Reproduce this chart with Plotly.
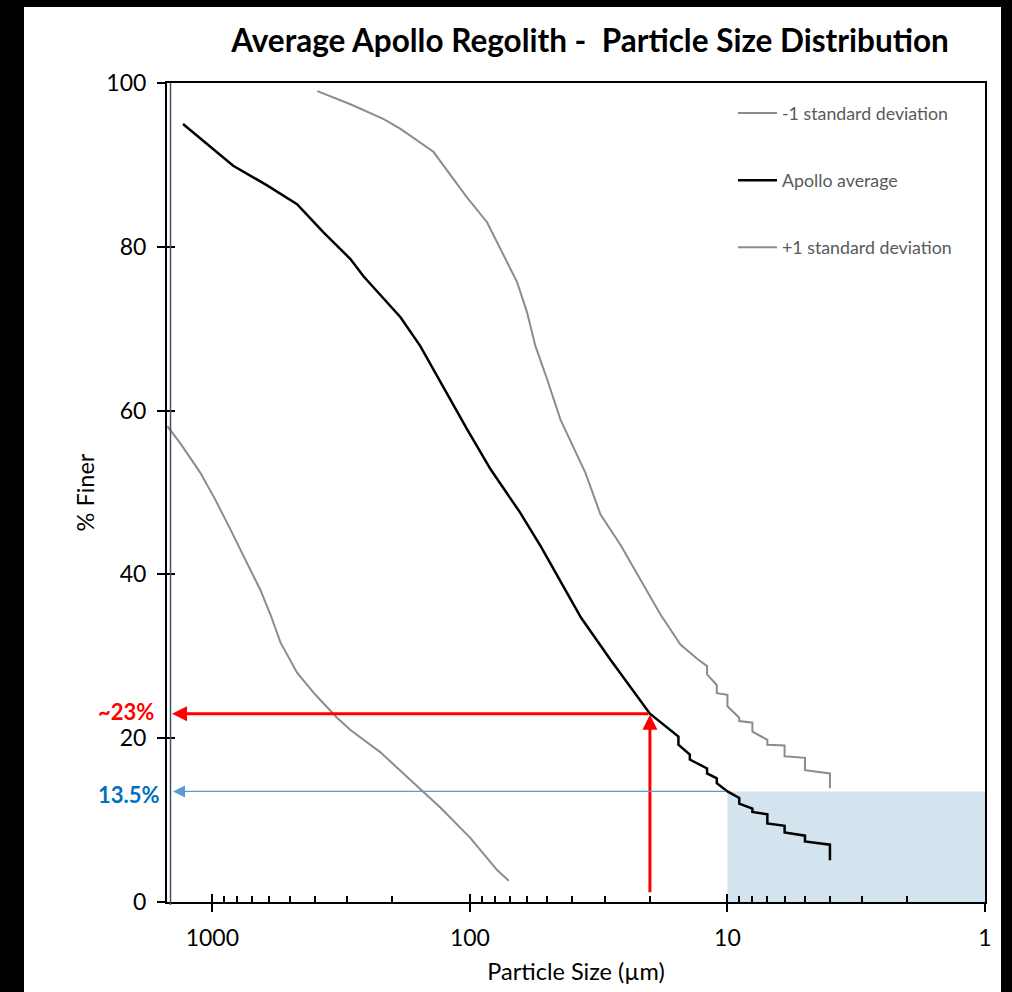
import numpy as np
import plotly.graph_objects as go

# Cumulative particle size distribution: particle size (µm) vs % finer
avg_size = [1300, 830, 613, 530, 469, 371, 291, 259, 186, 156, 130, 102.5, 83, 64, 53,
            45, 37, 28.5, 23.8, 20, 15.5, 15.5, 14, 14, 12, 12, 11, 11, 10, 9, 9, 8, 8,
            7, 7, 6, 6, 5, 5, 4, 4]
avg_pct = [95.0, 89.9, 87.5, 86.2, 85.2, 81.8, 78.5, 76.4, 71.4, 67.9, 63.4, 57.7, 52.8,
           47.6, 43.4, 39.4, 34.7, 29.6, 26.2, 23.0, 20.2, 19.2, 18.0, 17.4, 16.3, 15.7,
           15.1, 14.5, 13.5, 12.7, 12.0, 11.4, 11.0, 10.7, 9.6, 9.3, 8.5, 8.1, 7.4, 7.0, 5.1]

minus_size = [1496, 1331, 1113, 973, 851, 744, 651, 595, 544, 469, 398, 328, 291, 223,
              170, 130, 99.5, 78.4, 70.7]
minus_pct = [58.1, 56.0, 52.4, 49.1, 45.5, 41.8, 38.1, 35.1, 31.7, 28.0, 25.3, 22.5, 21.0,
             18.3, 14.9, 11.5, 7.8, 3.9, 2.6]

plus_size = [391, 291, 216, 186, 138.6, 102.5, 85.8, 76.1, 65.6, 60.0, 55.7, 50.1, 44.5,
             35.6, 31.1, 26.0, 21.8, 18.2, 15.2, 13.0, 12, 12, 11, 11, 10, 10, 9, 9, 8, 8,
             7, 7, 6, 6, 5, 5, 4, 4]
plus_pct = [99.0, 97.4, 95.6, 94.4, 91.6, 86.0, 83.0, 79.7, 75.7, 72.0, 67.9, 63.8, 58.9,
            52.4, 47.3, 43.6, 39.4, 35.1, 31.4, 29.6, 28.8, 27.8, 26.5, 25.5, 25.3, 23.9,
            22.5, 22.1, 21.9, 20.8, 19.8, 19.2, 19.1, 17.8, 17.6, 16.1, 15.7, 13.9]

# Highlighted readings
marker_size = 20        # µm
marker_pct = 23         # % finer at 20 µm
fine_size = 10          # µm
fine_pct = 13.5         # % finer at 10 µm

# Axis extents
size_max = 1500
size_min = 1
pct_ticks = [0, 20, 40, 60, 80, 100]

W, H = 1012, 992
ML, MR, MT, MB = 167, 27, 83, 90
PW, PH = W - ML - MR, H - MT - MB
FONT = "Lato"


def px_to_paper_x(px):
    return (px - ML) / PW


def px_to_paper_y(py):
    return (H - MB - py) / PH


x_range = [np.log10(size_max), np.log10(size_min)]
minor_vals = [m * 10 ** e for e in range(0, 4) for m in range(2, 10) if m * 10 ** e < size_max]

fig = go.Figure()
fig.add_trace(go.Scatter(x=minus_size, y=minus_pct, mode="lines", name="-1 standard deviation",
                         line=dict(color="#8C8C8C", width=2), legendgroup="m"))
fig.add_trace(go.Scatter(x=avg_size, y=avg_pct, mode="lines", name="Apollo average",
                         line=dict(color="black", width=2.5), legendgroup="a"))
fig.add_trace(go.Scatter(x=plus_size, y=plus_pct, mode="lines", name="+1 standard deviation",
                         line=dict(color="#8C8C8C", width=2), legendgroup="p"))
# companion axes that carry the inner half of the crossing major ticks
fig.add_trace(go.Scatter(x=[], y=[], xaxis="x2", yaxis="y2", showlegend=False, hoverinfo="skip"))

shapes = [
    # fine fraction band
    dict(type="rect", xref="x", yref="y", x0=fine_size, x1=size_min, y0=0, y1=fine_pct,
         fillcolor="#D3E4EE", line=dict(width=0), layer="below"),
    # thin slate rule alongside the vertical axis
    dict(type="line", xref="paper", yref="paper", x0=px_to_paper_x(170.5), x1=px_to_paper_x(170.5),
         y0=px_to_paper_y(905), y1=1, line=dict(color="#44546A", width=1.5), layer="above"),
    # dark frame around the page
    dict(type="rect", xref="paper", yref="paper", x0=px_to_paper_x(0), x1=px_to_paper_x(24),
         y0=px_to_paper_y(H), y1=px_to_paper_y(0), fillcolor="black", line=dict(width=0)),
    dict(type="rect", xref="paper", yref="paper", x0=px_to_paper_x(0), x1=px_to_paper_x(W),
         y0=px_to_paper_y(7), y1=px_to_paper_y(0), fillcolor="black", line=dict(width=0)),
    dict(type="rect", xref="paper", yref="paper", x0=px_to_paper_x(1001), x1=px_to_paper_x(W),
         y0=px_to_paper_y(H), y1=px_to_paper_y(0), fillcolor="black", line=dict(width=0)),
]

annotations = [
    # red reading: 20 µm -> ~23 %
    dict(x=np.log10(size_max), y=marker_pct, ax=np.log10(marker_size), ay=marker_pct,
         xref="x", yref="y", axref="x", ayref="y", text="", showarrow=True,
         arrowhead=2, arrowsize=1, arrowwidth=3, arrowcolor="#FF0000", standoff=5),
    dict(x=np.log10(marker_size), y=marker_pct, ax=np.log10(marker_size), ay=1,
         xref="x", yref="y", axref="x", ayref="y", text="", showarrow=True,
         arrowhead=2, arrowsize=1, arrowwidth=3, arrowcolor="#FF0000", standoff=1),
    # blue reading: 10 µm -> 13.5 %
    dict(x=np.log10(size_max), y=fine_pct, ax=np.log10(fine_size), ay=fine_pct,
         xref="x", yref="y", axref="x", ayref="y", text="", showarrow=True,
         arrowhead=2, arrowsize=2, arrowwidth=1.2, arrowcolor="#5B9BD5", standoff=6),
    dict(x=px_to_paper_x(156), y=marker_pct, xref="paper", yref="y", xanchor="right",
         yanchor="middle", text=f"~{marker_pct}%", showarrow=False, yshift=2,
         font=dict(family=FONT, size=22, color="#FF0000", weight="bold")),
    dict(x=px_to_paper_x(162), y=fine_pct, xref="paper", yref="y", xanchor="right",
         yanchor="middle", text=f"{fine_pct}%", showarrow=False, yshift=-3,
         font=dict(family=FONT, size=22, color="#0070C0", weight="bold")),
]

fig.update_layout(
    width=W, height=H,
    margin=dict(l=ML, r=MR, t=MT, b=MB, autoexpand=False),
    paper_bgcolor="white", plot_bgcolor="white",
    font=dict(family=FONT, color="black"),
    title=dict(text="Average Apollo Regolith -\u00a0 Particle Size Distribution",
               x=px_to_paper_x(590), xref="paper", xanchor="center",
               y=1 - 41 / H, yref="container", yanchor="middle",
               font=dict(family=FONT, size=31.5, color="black", weight="bold")),
    showlegend=True,
    legend=dict(x=px_to_paper_x(733), y=px_to_paper_y(95), xanchor="left", yanchor="top",
                bgcolor="rgba(0,0,0,0)", tracegroupgap=41, traceorder="grouped",
                itemwidth=39,
                font=dict(family=FONT, size=17.8, color="#595959")),
    xaxis=dict(type="log", range=x_range, showgrid=False, zeroline=False,
               showline=True, linecolor="black", linewidth=2, mirror=True,
               ticks="outside", ticklen=8, tickwidth=2, tickcolor="black",
               tickmode="linear", tick0=0, dtick=1, exponentformat="none",
               tickfont=dict(family=FONT, size=23, color="black"), ticklabelstandoff=6,
               minor=dict(tickmode="array", tickvals=minor_vals, ticks="inside",
                          ticklen=6, tickwidth=1.5, tickcolor="black", showgrid=False),
               title=dict(text="Particle Size (µm)", standoff=14,
                          font=dict(family=FONT, size=23.5, color="black"))),
    yaxis=dict(range=[0, 100], showgrid=False, zeroline=False,
               showline=True, linecolor="black", linewidth=2, mirror=True,
               ticks="outside", ticklen=8, tickwidth=2, tickcolor="black",
               tickvals=pct_ticks, ticklabelstandoff=6,
               tickfont=dict(family=FONT, size=23, color="black"),
               title=dict(text="% Finer", standoff=5,
                          font=dict(family=FONT, size=23.5, color="black"))),
    xaxis2=dict(type="log", range=x_range, overlaying="x", anchor="y", showgrid=False,
                zeroline=False, showline=False, ticks="inside", ticklen=8, tickwidth=2,
                tickcolor="black", tickmode="linear", tick0=0, dtick=1, showticklabels=False),
    yaxis2=dict(range=[0, 100], overlaying="y", anchor="x", showgrid=False, zeroline=False,
                showline=False, ticks="inside", ticklen=8, tickwidth=2, tickcolor="black",
                tickvals=pct_ticks, showticklabels=False),
    shapes=shapes,
    annotations=annotations,
)

fig.write_html("out.html")
